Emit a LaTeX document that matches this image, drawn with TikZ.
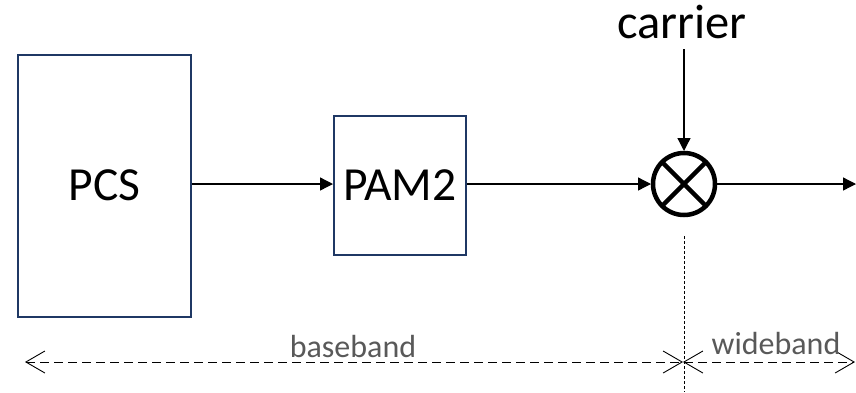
\documentclass[tikz,border=0pt]{standalone}
\usepackage{fontspec}
\setmainfont{Carlito}
\usetikzlibrary{arrows.meta}
\definecolor{boxnavy}{HTML}{1F3864}
\definecolor{dimgray}{HTML}{595959}
\tikzset{
  blockbox/.style={draw=boxnavy, line width=2pt, rectangle, inner sep=0pt, font=\fontsize{47.5}{55}\selectfont},
  sigline/.style={line width=1.3pt, -{Triangle[length=13pt,width=13pt]}},
  dimline/.style={line width=0.9pt, dash pattern=on 9pt off 5pt, {Straight Barb[length=19pt,width=22pt]}-{Straight Barb[length=19pt,width=22pt]}},
  dimlabel/.style={text=dimgray, font=\fontsize{32}{38}\selectfont, anchor=base, inner sep=0pt},
  mixer/.style={circle, draw, line width=4.5pt, minimum size=62pt, inner sep=0pt, outer sep=2pt}
}
\begin{document}
\begin{tikzpicture}[x=1pt,y=-1pt]
\useasboundingbox (0,0) rectangle (856,392);
\node[blockbox, minimum width=173pt, minimum height=262pt] (pcs) at (104.5,185.5) {PCS};
\node[blockbox, minimum width=132pt, minimum height=139pt] (pam) at (400,185) {PAM2};
\node[mixer] (mix) at (684,184) {};
\draw[line width=4.5pt] (mix.45) -- (mix.225);
\draw[line width=4.5pt] (mix.135) -- (mix.315);
\node[font=\fontsize{48.5}{56}\selectfont, anchor=base, inner sep=0pt] (car) at (682,38) {carrier};
\coordinate (carstart) at (684,49);
\coordinate (outend) at (856,184);
\draw[sigline] (pcs.east |- 0,184) -- (pam.west |- 0,184);
\draw[sigline] (pam.east |- 0,184) -- (mix.west);
\draw[sigline] (carstart) -- (mix.north);
\draw[sigline] (mix.east) -- (outend);
% dimension lines
\coordinate (vtop) at (684,236);
\coordinate (vbot) at (684,392);
\draw[line width=0.9pt, dash pattern=on 3pt off 2pt] (vtop) -- (vbot);
\coordinate (dl) at (25,362);
\coordinate (dm) at (683,362);
\coordinate (dr) at (855,362);
\draw[dimline] (dl) -- (dm);
\draw[dimline] (dm) -- (dr);
\node[dimlabel] (bb) at (353,357) {baseband};
\node[dimlabel] (wb) at (776,354) {wideband};
\end{tikzpicture}
\end{document}
